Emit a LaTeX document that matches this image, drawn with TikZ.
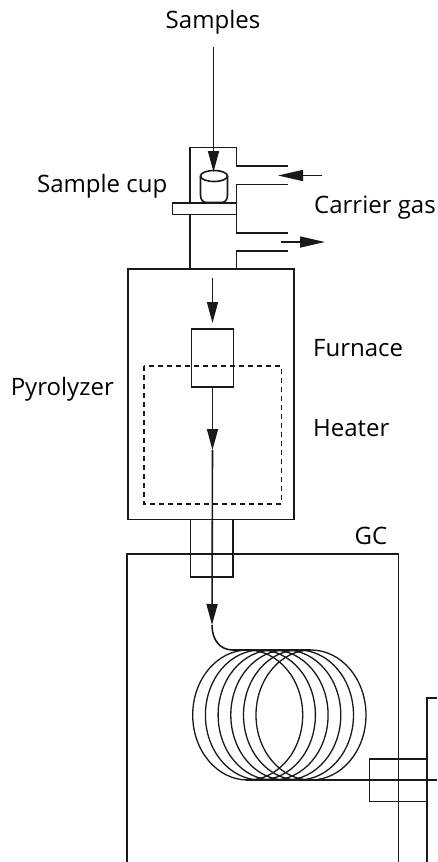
\documentclass[tikz,border=0pt]{standalone}
\usepackage{fontspec}
\setmainfont{Open Sans}
\usetikzlibrary{arrows.meta}
\tikzset{
  flow/.style={-{Triangle[length=21pt,width=11pt]}},
  gasflow/.style={-{Triangle[length=25pt,width=11pt]}},
  tag/.style={font=\fontsize{24}{28}\selectfont,inner sep=0pt,anchor=base},
  part/.style={line width=1.6pt,draw=black!90},
  coil/.style={line width=1.3pt,draw=black!90},
}
\begin{document}
\begin{tikzpicture}[x=1pt,y=-1pt,line join=miter]
  \useasboundingbox (0,0) rectangle (437,862);

  % Etiquetas
  \node[tag] (samples) at (213,28.5) {Samples};
  \node[tag,anchor=base east] (cuplabel) at (167.5,192) {Sample cup};
  \node[tag,anchor=base west] (carrier) at (314,213.5) {Carrier gas};
  \node[tag,anchor=base west] (furnace) at (313,356.5) {Furnace};
  \node[tag,anchor=base east] (pyrolyzer) at (114,395) {Pyrolyzer};
  \node[tag,anchor=base west] (heater) at (313,436) {Heater};
  \node[tag] (gc) at (371,544.5) {GC};

  % Cabezal con entrada y salida de gas
  \begin{scope}[part]
    \draw (190,203) -- (190,147.5) -- (236.5,147.5) -- (236.5,166) -- (288,166);
    \draw (288,184.5) -- (236.5,184.5) -- (236.5,203);
    \draw (172.5,203) rectangle (236.5,214.5);
    \draw (190,214.5) -- (190,269);
    \draw (236.5,214.5) -- (236.5,233) -- (288,233);
    \draw (288,251) -- (236.5,251) -- (236.5,269);
    % Copa
    \draw (200.5,176) -- (200.5,195) .. controls (200.5,200) and (203,202.5) .. (207,202.5)
      -- (221,202.5) .. controls (225,202.5) and (227.5,200) .. (227.5,195) -- (227.5,176);
    \draw[fill=white] (214,176) ellipse (13.5 and 5.5);
  \end{scope}

  % Pirolizador
  \begin{scope}[part]
    \node[draw,part,inner sep=0pt,minimum width=166pt,minimum height=250.5pt] (oven) at (211.25,394.25) {};
    \node[draw,part,inner sep=0pt,minimum width=42pt,minimum height=58pt] (tube) at (212.5,358) {};
    \draw[dashed,dash pattern=on 5pt off 4pt] (143.7,366) rectangle (281.3,503.7);
    \draw (190.5,519.5) rectangle (232.7,576.7);
  \end{scope}

  % GC y detector
  \begin{scope}[part]
    \draw (126.7,862) -- (126.7,554) -- (398.3,554) -- (398.3,862);
    \draw (437,698) -- (427,698) -- (427,862);
    \draw (427,759) -- (369.5,759) -- (369.5,801.5) -- (427,801.5);
  \end{scope}

  % Flechas
  \coordinate (samplein) at (213.5,47);
  \coordinate (cuptip) at (213.5,172);
  \coordinate (gasinstart) at (322,175.5);
  \coordinate (gasintip) at (278,175.5);
  \coordinate (gasoutstart) at (281,242);
  \coordinate (gasouttip) at (325,242);
  \coordinate (ovenin) at (212.5,278);
  \coordinate (oventip) at (212.5,323);
  \coordinate (heatertip) at (212.5,450);
  \coordinate (columntip) at (212,625);
  \coordinate (coilstart) at (233,650);
  \coordinate (coilend) at (246,780);
  \coordinate (detector) at (437,780);
  \begin{scope}[part,fill=black!90]
    \draw[flow] (samplein) -- (cuptip);
    \draw[gasflow] (gasinstart) -- (gasintip);
    \draw[gasflow] (gasoutstart) -- (gasouttip);
    \draw[flow] (ovenin) -- (oventip);
    \draw[flow] (tube.south) -- (heatertip);
    \draw[flow] (heatertip) -- (columntip);
    \draw (columntip) .. controls (212,640) and (220,650) .. (coilstart);
  \end{scope}

  % Columna
  \begin{scope}[coil]
    \foreach \cx in {247.7,260.4,273.1,285.8,298.5,311} {
      \draw (\cx,715) ellipse (55 and 65);
    }
    \draw (coilstart) -- (311,650);
    \draw (coilend) -- (detector);
  \end{scope}
\end{tikzpicture}
\end{document}
